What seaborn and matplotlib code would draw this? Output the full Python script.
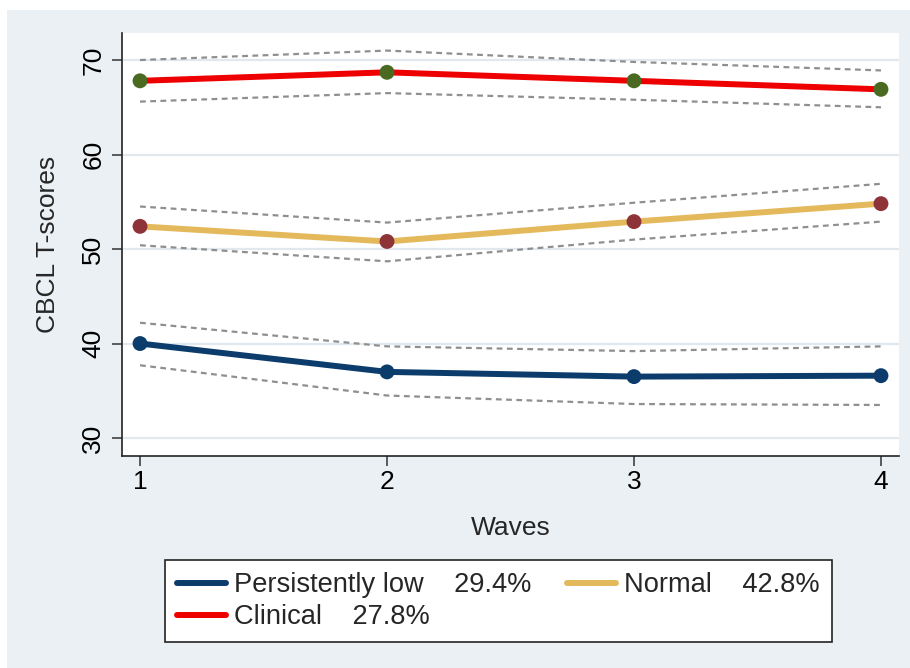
import numpy as np
import pandas as pd
import matplotlib
matplotlib.use('Agg')
import matplotlib.pyplot as plt
from matplotlib.lines import Line2D
from matplotlib.patches import Rectangle
import seaborn as sns

waves = [1, 2, 3, 4]
groups = ['Persistently low', 'Normal', 'Clinical']
shares = ['29.4%', '42.8%', '27.8%']

low_mean = [40.0, 37.0, 36.5, 36.6]
low_lo = [37.7, 34.5, 33.6, 33.5]
low_hi = [42.2, 39.7, 39.2, 39.7]

normal_mean = [52.4, 50.8, 52.9, 54.8]
normal_lo = [50.4, 48.7, 51.0, 52.9]
normal_hi = [54.5, 52.8, 54.9, 56.9]

clin_mean = [67.8, 68.7, 67.8, 66.9]
clin_lo = [65.6, 66.5, 65.8, 65.0]
clin_hi = [70.0, 71.0, 69.8, 68.9]

y_ticks = [30, 40, 50, 60, 70]

line_colors = {'Persistently low': '#0b3c6b', 'Normal': '#e4b95c', 'Clinical': '#ee0000'}
dot_colors = {'Persistently low': '#0b3c6b', 'Normal': '#8e3439', 'Clinical': '#4a6a22'}

rows = []
for g, m, lo, hi in zip(groups, [low_mean, normal_mean, clin_mean],
                        [low_lo, normal_lo, clin_lo], [low_hi, normal_hi, clin_hi]):
    for w, a, b, c in zip(waves, m, lo, hi):
        rows.append({'group': g, 'wave': w, 'mean': a, 'lo': b, 'hi': c})
df = pd.DataFrame(rows)

sns.set_theme(style='white')
plt.rcParams['font.family'] = ['Liberation Sans', 'DejaVu Sans']

fig = plt.figure(figsize=(9.1, 6.68), dpi=100, facecolor='white')
fig.add_artist(Rectangle((7 / 910, 0), 903 / 910, 658 / 668, transform=fig.transFigure,
                         facecolor='#eaf0f3', edgecolor='none', zorder=-10))
ax = fig.add_axes([122 / 910, 1 - 456 / 668, 777 / 910, 423 / 668])
ax.set_facecolor('white')

# confidence bands as dashed grey lines
for g in groups:
    sub = df[df['group'] == g]
    for col in ['lo', 'hi']:
        sns.lineplot(data=sub, x='wave', y=col, color='#8f8f8f', linewidth=1.6,
                     dashes=False, ax=ax, zorder=2)
for ln in ax.lines:
    ln.set_dashes((2.6, 2.0))

sns.lineplot(data=df, x='wave', y='mean', hue='group', hue_order=groups,
             palette=line_colors, linewidth=4.3, legend=False, ax=ax, zorder=3)
sns.scatterplot(data=df, x='wave', y='mean', hue='group', hue_order=groups,
                palette=dot_colors, s=115, edgecolor='none', legend=False, ax=ax, zorder=4)

ax.set_xlim(0.927, 4.073)
ax.set_ylim(28.1, 72.86)
ax.set_xticks(waves)
ax.set_yticks(y_ticks)
ax.yaxis.grid(True, color='#e2e9ee', linewidth=1.6, zorder=0)
ax.xaxis.grid(False)
ax.set_axisbelow(True)

for s in ['top', 'right']:
    ax.spines[s].set_visible(False)
for s in ['left', 'bottom']:
    ax.spines[s].set_color('#222222')
    ax.spines[s].set_linewidth(1.2)

ax.tick_params(axis='both', which='major', direction='out', length=7, width=1.1,
               color='#333333', labelsize=19, labelcolor='black',
               bottom=True, left=True)
ax.tick_params(axis='x', pad=3)
ax.tick_params(axis='y', pad=5, labelrotation=90)
for lab in ax.get_yticklabels():
    lab.set_va('center')

ax.set_xlabel('Waves', fontsize=19)
ax.set_ylabel('CBCL T-scores', fontsize=19)
ax.xaxis.set_label_coords(0.5, -0.170)
ax.xaxis.label.set_va('center')
ax.yaxis.set_label_coords(-0.0952, 0.5)
ax.yaxis.label.set_va('center')

handles = [Line2D([], [], color=line_colors[g], linewidth=4.3) for g in groups]
labels = [f'{g}    {s}' for g, s in zip(groups, shares)]
order = [0, 2, 1]
leg = fig.legend([handles[i] for i in order], [labels[i] for i in order],
                 loc='upper left', bbox_to_anchor=(165 / 910, 1 - 560 / 668),
                 ncol=2, fontsize=19.6, frameon=True, fancybox=False, shadow=False,
                 framealpha=1, edgecolor='#222222', borderaxespad=0,
                 handlelength=1.8, handletextpad=0.3, columnspacing=1.3,
                 labelspacing=0.22, borderpad=0.45)
leg.get_frame().set_linewidth(1.2)

fig.savefig('out.png', dpi=100, facecolor=fig.get_facecolor())
